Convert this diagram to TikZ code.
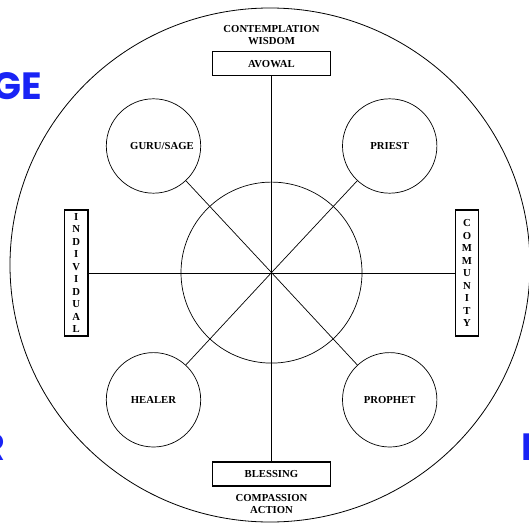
\documentclass[tikz,border=0pt]{standalone}
\usepackage{fontspec}
\setmainfont{Liberation Serif}
\newfontfamily\blueface{Poppins}
\definecolor{markblue}{RGB}{25,35,245}
\begin{document}
\begin{tikzpicture}[x=1pt,y=-1pt,
  lbl/.style={font=\fontsize{10.7}{12.4}\selectfont\bfseries, inner sep=0pt, align=center},
  rolecircle/.style={draw, circle, line width=0.7pt, minimum size=94.4pt, inner sep=0pt, font=\fontsize{10.7}{12.4}\selectfont\bfseries},
  hbox/.style={draw, line width=1.1pt, minimum width=118.4pt, minimum height=24pt, inner sep=0pt, font=\fontsize{10.7}{12.4}\selectfont\bfseries},
  vbox/.style={draw, line width=1.1pt, minimum width=23.5pt, minimum height=126pt, inner sep=0pt, align=center, font=\fontsize{10.7}{12.5}\selectfont\bfseries},
  spoke/.style={line width=0.7pt},
  bluemark/.style={font=\blueface\fontsize{38}{40}\selectfont\bfseries, text=markblue, inner sep=0pt}
]
\useasboundingbox (0,0) rectangle (529,529);
% outer ring
\draw[line width=0.8pt] (270,265) ellipse [x radius=260, y radius=257];
% centre
\coordinate (c) at (271.5,272.6);
\node[draw, circle, line width=0.7pt, minimum size=181pt, inner sep=0pt] (inner) at (c) {};
% boxes
\node[hbox] (avowal) at (271.4,63.6) {AVOWAL};
\node[hbox] (blessing) at (271.4,474) {BLESSING};
\node[vbox] (individual) at (76.2,273) {I\\N\\D\\I\\V\\I\\D\\U\\A\\L};
\node[vbox] (community) at (467,273) {C\\O\\M\\M\\U\\N\\I\\T\\Y};
% role circles
\node[rolecircle, label={[lbl, xshift=8.5pt]center:GURU/SAGE}] (guru) at (153.5,146) {};
\node[rolecircle] (priest) at (389.7,146) {PRIEST};
\node[rolecircle] (healer) at (153.5,399.8) {HEALER};
\node[rolecircle] (prophet) at (389.7,399.8) {PROPHET};
% spokes
\draw[spoke] (avowal.south) -- (blessing.north);
\draw[spoke] (individual.east) -- (community.west);
\draw[spoke] (c) -- (guru);
\draw[spoke] (c) -- (priest);
\draw[spoke] (c) -- (healer);
\draw[spoke] (c) -- (prophet);
% outer labels
\node[lbl] (top) at (271.5,35.2) {CONTEMPLATION\\WISDOM};
\node[lbl] (bottom) at (271.5,503.8) {COMPASSION\\ACTION};
% clipped blue fragments
\node[bluemark, anchor=base east] (ge) at (42.5,99.5) {GE};
\node[bluemark, anchor=base east] (r) at (5,460.5) {R};
\node[bluemark, anchor=base west] (p) at (521,460.5) {P};
\end{tikzpicture}
\end{document}
